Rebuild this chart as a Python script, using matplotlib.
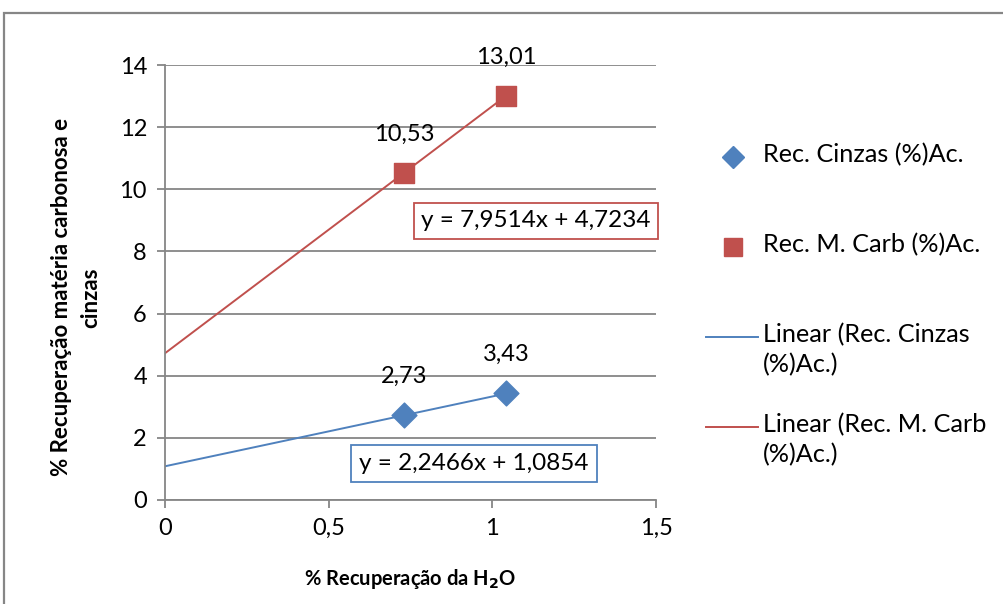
import numpy as np
import matplotlib
matplotlib.use("Agg")
import matplotlib.pyplot as plt
from matplotlib.lines import Line2D
from matplotlib.patches import Rectangle

plt.rcParams['font.family'] = ['Lato', 'DejaVu Sans']

# dados
rec_h2o = [0.731, 1.043]
rec_cinzas = [2.73, 3.43]
rec_carb = [10.53, 13.01]
# retas de tendência (Excel)
coef_cinzas = (2.2466, 1.0854)
coef_carb = (7.9514, 4.7234)

azul = '#4F81BD'
vermelho = '#C0504D'
cinza = '#868686'

def br(v):
    return ('%g' % v).replace('.', ',')

W, H = 1004, 604
fig = plt.figure(figsize=(W / 100, H / 100), dpi=100)
ax = fig.add_axes([165 / W, 1 - 500 / H, 491 / W, 435 / H])

# borda da área do gráfico
fig.patches.append(Rectangle((4 / W, -0.1), 1.2, 1 - 13 / H + 0.1,
                             transform=fig.transFigure, fill=False,
                             edgecolor=cinza, linewidth=1.6))

xt = np.array([0, max(rec_h2o)])
ax.plot(xt, coef_cinzas[0] * xt + coef_cinzas[1], color=azul, lw=1.4, zorder=2)
ax.plot(xt, coef_carb[0] * xt + coef_carb[1], color=vermelho, lw=1.4, zorder=2)

ax.scatter(rec_h2o, rec_cinzas, marker='D', s=160, color=azul, zorder=3)
ax.scatter(rec_h2o, rec_carb, marker='s', s=190, color=vermelho, zorder=3)

for x, y in zip(rec_h2o, rec_cinzas):
    ax.annotate(br(y), (x, y), xytext=(0, 28), textcoords='offset points',
                ha='center', va='center', fontsize=17)
for x, y in zip(rec_h2o, rec_carb):
    ax.annotate(br(y), (x, y), xytext=(0, 28), textcoords='offset points',
                ha='center', va='center', fontsize=17)

eq_carb = 'y = %sx + %s' % (br(coef_carb[0]), br(coef_carb[1]))
eq_cinzas = 'y = %sx + %s' % (br(coef_cinzas[0]), br(coef_cinzas[1]))
ax.text(1.133, 8.98, eq_carb, ha='center', va='center', fontsize=17.5,
        bbox=dict(boxstyle='square,pad=0.3', fc='white', ec=vermelho, lw=1.3))
ax.text(0.944, 1.19, eq_cinzas, ha='center', va='center', fontsize=17.5,
        bbox=dict(boxstyle='square,pad=0.33', fc='white', ec=azul, lw=1.3))

ax.set_xlim(0, 1.5)
ax.set_ylim(0, 14)
ax.set_xticks([0, 0.5, 1, 1.5])
ax.set_yticks(range(0, 15, 2))
ax.set_xticklabels([br(v) for v in [0, 0.5, 1, 1.5]])
ax.tick_params(labelsize=17, color=cinza, length=6, width=1.3, pad=7)
ax.grid(axis='y', color=cinza, lw=1.3)
ax.set_axisbelow(True)
for s in ['top', 'right']:
    ax.spines[s].set_visible(False)
for s in ['left', 'bottom']:
    ax.spines[s].set_color(cinza)
    ax.spines[s].set_linewidth(1.3)

ax.set_xlabel('% Recuperação da H$_\\mathbf{2}$O', fontsize=14.5, fontweight='bold', labelpad=20)
ax.set_ylabel('% Recuperação matéria carbonosa e\ncinzas', fontsize=16,
              fontweight='bold', linespacing=1.5)
ax.yaxis.set_label_coords(-0.13, 0.466)

# legenda (itens alinhados pela primeira linha, como no Excel)
itens = [
    (dict(marker='D', color=azul, ls='none', markersize=11), 'Rec. Cinzas (%)Ac.'),
    (dict(marker='s', color=vermelho, ls='none', markersize=13.5), 'Rec. M. Carb (%)Ac.'),
    (dict(color=azul, lw=1.4), 'Linear (Rec. Cinzas\n(%)Ac.)'),
    (dict(color=vermelho, lw=1.4), 'Linear (Rec. M. Carb\n(%)Ac.)'),
]
for i, (estilo, rotulo) in enumerate(itens):
    yc = 1 - (157 + 90 * i) / H
    if estilo.get('ls') == 'none':
        fig.add_artist(Line2D([733 / W], [yc], transform=fig.transFigure, **estilo))
    else:
        fig.add_artist(Line2D([706 / W, 758 / W], [yc, yc], transform=fig.transFigure, **estilo))
    fig.text(763 / W, yc + 14 / H, rotulo, ha='left', va='top', fontsize=18.2,
             linespacing=1.35)

fig.savefig('out.png', dpi=100)
